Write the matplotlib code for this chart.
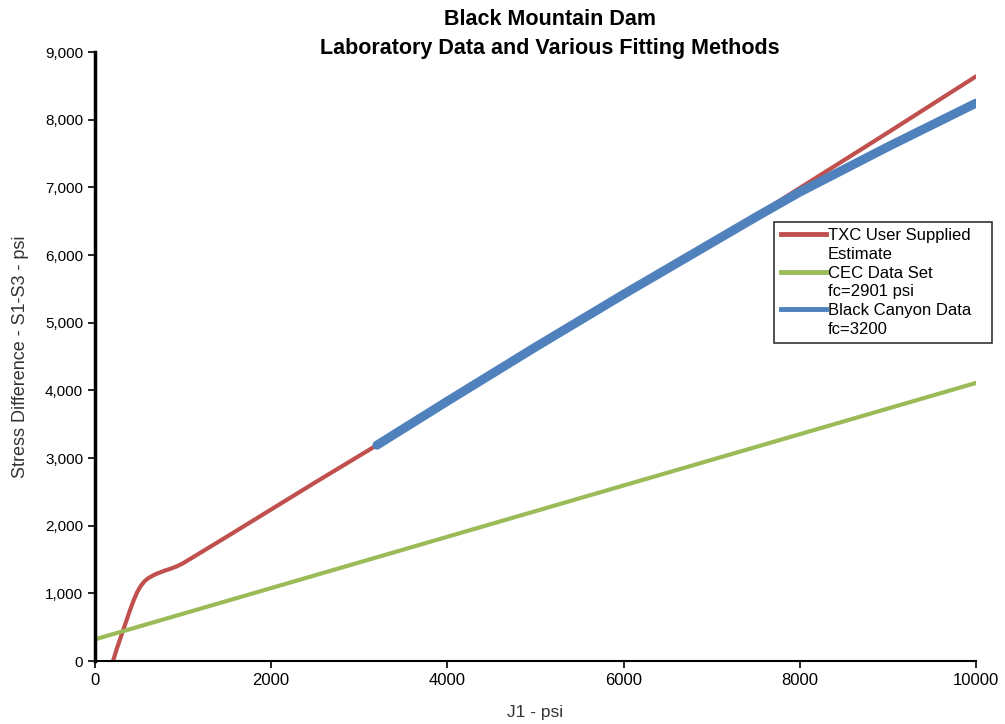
import numpy as np
import matplotlib.pyplot as plt
from matplotlib.lines import Line2D
from matplotlib.ticker import FuncFormatter

plt.rcParams['font.family'] = ['Liberation Sans', 'DejaVu Sans']

# TXC user supplied estimate
txc_j1 = [205, 250, 300, 350, 400, 440, 480, 520, 560, 600, 660, 700, 800, 850, 930, 1000,
          1500, 2000, 2500, 3200, 4000, 5000, 6000, 7000, 7500, 8000, 9000, 10000]
txc_sd = [0, 190, 380, 570, 760, 900, 1020, 1110, 1175, 1220, 1265, 1290, 1340, 1360, 1400, 1445,
          1840, 2240, 2640, 3190, 3850, 4650, 5430, 6180, 6580, 6990, 7810, 8640]

# CEC data set, fc=2901 psi
cec_j1 = [0, 10000]
cec_sd = [320, 4110]

# Black Canyon data, fc=3200
bc_j1 = [3200, 4000, 5000, 6000, 7000, 7500, 8000, 9000, 10000]
bc_sd = [3190, 3840, 4640, 5420, 6180, 6560, 6930, 7600, 8245]

series_colors = ['#c0504d', '#9bbb59', '#4f81bd']
legend_rows = [('TXC User Supplied', 'Estimate'),
               ('CEC Data Set', 'fc=2901 psi'),
               ('Black Canyon Data', 'fc=3200')]

fig = plt.figure(figsize=(10.05, 7.24), dpi=100)
ax = fig.add_axes([0.0945, 0.087, 0.8765, 0.841])

ax.plot(txc_j1, txc_sd, color=series_colors[0], lw=3, solid_capstyle='round',
        solid_joinstyle='round', zorder=2)
ax.plot(cec_j1, cec_sd, color=series_colors[1], lw=3, zorder=2)
ax.plot(bc_j1, bc_sd, color=series_colors[2], lw=6.5, solid_capstyle='round',
        solid_joinstyle='round', zorder=3)

ax.set_xlim(0, 10000)
ax.set_ylim(0, 9000)
ax.set_xticks(np.arange(0, 10001, 2000))
ax.set_yticks(np.arange(0, 9001, 1000))
ax.yaxis.set_major_formatter(FuncFormatter(lambda v, p: f'{int(v):,}'))

for s in ['top', 'right']:
    ax.spines[s].set_visible(False)
ax.spines['left'].set_linewidth(2.5)
ax.spines['bottom'].set_linewidth(1.5)
ax.tick_params(direction='out', length=5, width=1.2, labelsize=11, colors='black')
for lab in ax.get_xticklabels():
    lab.set_fontsize(12)

ax.set_xlabel('J1 - psi', fontsize=12.5, color='#333333')
ax.set_ylabel('Stress Difference - S1-S3 - psi', fontsize=13, color='#333333')
ax.xaxis.set_label_coords(0.5, -0.072)
ax.yaxis.set_label_coords(-0.075, 0.5)

fig.text(0.547, 0.988, 'Black Mountain Dam\nLaboratory Data and Various Fitting Methods',
         fontsize=15.5, fontweight='bold', ha='center', va='top', linespacing=1.5)

# legend: the line sits beside the first text line of each entry
handles, labels = [], []
for c, (l1, l2) in zip(series_colors, legend_rows):
    handles.append(Line2D([], [], color=c, lw=3.5))
    labels.append(l1 + '   ')
    handles.append(Line2D([], [], color='none'))
    labels.append(l2)
leg = fig.legend(handles, labels, loc='upper left', bbox_to_anchor=(0.770, 0.694),
                 fontsize=12, frameon=True, fancybox=False, edgecolor='black',
                 handlelength=2.7, handletextpad=0.15, borderpad=0.4,
                 labelspacing=0.22, borderaxespad=0)
leg.get_frame().set_linewidth(1.2)

fig.savefig('out.png', dpi=100)
